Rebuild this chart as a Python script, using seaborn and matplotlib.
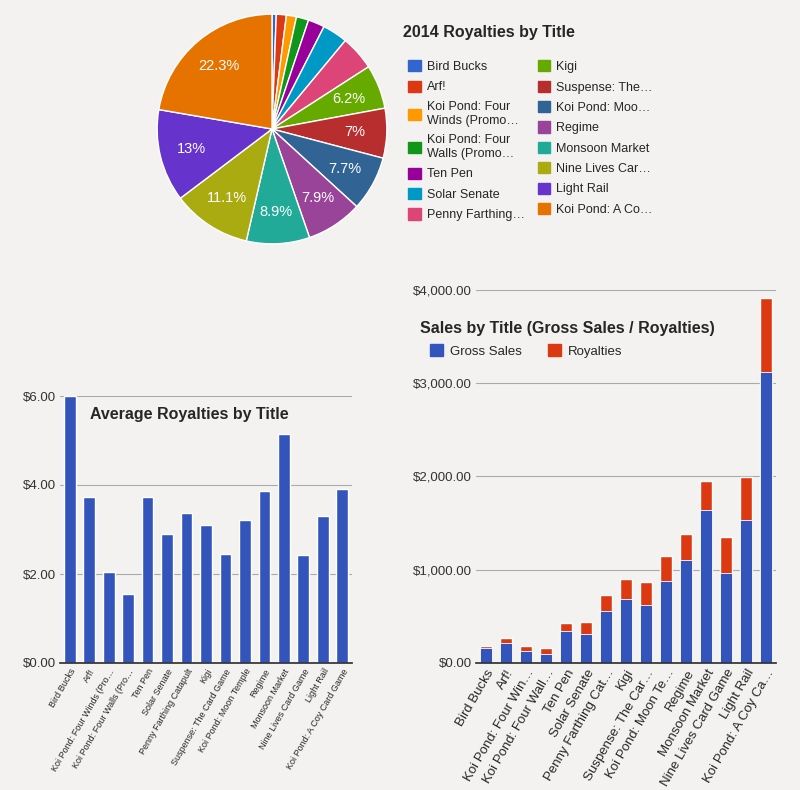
import matplotlib
matplotlib.use("Agg")
import matplotlib.pyplot as plt
import matplotlib.patches as mpatches
import seaborn as sns
import pandas as pd

titles = ["Bird Bucks", "Arf!", "Koi Pond: Four Winds (Promo)", "Koi Pond: Four Walls (Promo)",
          "Ten Pen", "Solar Senate", "Penny Farthing Catapult", "Kigi", "Suspense: The Card Game",
          "Koi Pond: Moon Temple", "Regime", "Monsoon Market", "Nine Lives Card Game",
          "Light Rail", "Koi Pond: A Coy Card Game"]
legend_labels = ["Bird Bucks", "Arf!", "Koi Pond: Four\nWinds (Promo…", "Koi Pond: Four\nWalls (Promo…",
                 "Ten Pen", "Solar Senate", "Penny Farthing…", "Kigi", "Suspense: The…",
                 "Koi Pond: Moo…", "Regime", "Monsoon Market", "Nine Lives Car…",
                 "Light Rail", "Koi Pond: A Co…"]
avg_labels = ["Bird Bucks", "Arf!", "Koi Pond: Four Winds (Pro…", "Koi Pond: Four Walls (Pro…",
              "Ten Pen", "Solar Senate", "Penny Farthing Catapult", "Kigi", "Suspense: The Card Game",
              "Koi Pond: Moon Temple", "Regime", "Monsoon Market", "Nine Lives Card Game",
              "Light Rail", "Koi Pond: A Coy Card Game"]
sales_labels = ["Bird Bucks", "Arf!", "Koi Pond: Four Win…", "Koi Pond: Four Wall…",
                "Ten Pen", "Solar Senate", "Penny Farthing Cat…", "Kigi", "Suspense: The Car…",
                "Koi Pond: Moon Te…", "Regime", "Monsoon Market", "Nine Lives Card Game",
                "Light Rail", "Koi Pond: A Coy Ca…"]
royalties = [21, 50, 50, 61, 82, 125, 172, 219, 247, 272, 279, 314, 392, 459, 787]
gross = [161, 214, 129, 96, 343, 311, 557, 686, 621, 879, 1100, 1643, 964, 1536, 3125]
avg_royalty = [6.00, 3.74, 2.04, 1.54, 3.74, 2.90, 3.38, 3.10, 2.46, 3.21, 3.87, 5.14, 2.42, 3.30, 3.91]

pie_colors = ["#3366cc", "#dc3912", "#ff9900", "#109618", "#990099", "#0099c6", "#dd4477",
              "#66aa00", "#b82e2e", "#316395", "#994499", "#22aa99", "#aaaa11", "#6633cc", "#e67300"]
BLUE = "#3355bb"
RED = "#dc3912"
BG = "#f3f2f1"

sns.set_theme(style="white")
plt.rcParams['font.family'] = ['Liberation Sans', 'DejaVu Sans']

W, H = 800, 790
fig = plt.figure(figsize=(8, 7.9), dpi=100, facecolor=BG)

def ax_px(x0, y0, x1, y1):
    return fig.add_axes([x0 / W, 1 - y1 / H, (x1 - x0) / W, (y1 - y0) / H])

# ---- Pie ----
axp = ax_px(156, 13, 388, 245)
def fmt(p):
    if p < 5.5:
        return ""
    s = f"{p:.1f}"
    return (s[:-2] if s.endswith(".0") else s) + "%"
wedges, texts, autotexts = axp.pie(royalties, colors=pie_colors, startangle=90, counterclock=False,
                                   autopct=fmt, pctdistance=0.72,
                                   wedgeprops=dict(edgecolor="white", linewidth=1))
for t in autotexts:
    t.set_color("white")
    t.set_fontsize(10.5)
axp.set_xlim(-1.01, 1.01)
axp.set_ylim(-1.01, 1.01)
axp.set_aspect("equal")
fig.text(403 / W, 1 - 33 / H, "2014 Royalties by Title", fontsize=11.5, fontweight="bold",
         va="center", ha="left")
handles = [mpatches.Patch(color=c, label=l) for c, l in zip(pie_colors, legend_labels)]
blank = mpatches.Patch(color="none", label=" ")
handles = handles[:7] + [blank] + handles[7:]
fig.legend(handles=handles, loc="upper left", bbox_to_anchor=(397 / W, 1 - 49 / H), ncol=2,
           frameon=False, fontsize=9, handlelength=1.0, handleheight=1.0, handletextpad=0.5,
           columnspacing=1.0, labelspacing=0.6)

# ---- Average royalties ----
axa = ax_px(60, 396, 352, 663)
axa.set_facecolor(BG)
df_a = pd.DataFrame({"title": titles, "avg": avg_royalty})
sns.barplot(data=df_a, x="title", y="avg", color=BLUE, saturation=1, width=0.6, ax=axa)
axa.set_ylim(0, 6)
axa.set_yticks([0, 2, 4, 6])
axa.set_yticklabels(["$0.00", "$2.00", "$4.00", "$6.00"], fontsize=9.5, color="#333333")
axa.set_xticks(range(len(titles)))
axa.set_xticklabels(avg_labels, rotation=60, ha="right", rotation_mode="anchor", fontsize=6.5)
axa.set_xlabel("")
axa.set_ylabel("")
axa.grid(axis="y", color="#aaaaaa", linewidth=0.8)
axa.set_axisbelow(True)
for s in ["top", "right", "left"]:
    axa.spines[s].set_visible(False)
axa.spines["bottom"].set_color("#333333")
axa.tick_params(axis="both", length=0, pad=3)
axa.set_xlim(-0.5, len(titles) - 0.5)
fig.text(90 / W, 1 - 415 / H, "Average Royalties by Title", fontsize=11.5, fontweight="bold",
         va="center", ha="left")

# ---- Sales stacked ----
axs = ax_px(476, 290, 776, 663)
axs.set_facecolor(BG)
df_s = pd.DataFrame({"title": titles, "gross": gross, "royalties": royalties})
df_s["total"] = df_s["gross"] + df_s["royalties"]
sns.barplot(data=df_s, x="title", y="total", color=RED, saturation=1, width=0.6, ax=axs)
sns.barplot(data=df_s, x="title", y="gross", color=BLUE, saturation=1, width=0.6, ax=axs)
for p in axs.patches[len(titles):]:
    p.set_edgecolor("white")
    p.set_linewidth(0.6)
axs.set_ylim(0, 4000)
axs.set_yticks([0, 1000, 2000, 3000, 4000])
axs.set_yticklabels(["$0.00", "$1,000.00", "$2,000.00", "$3,000.00", "$4,000.00"],
                    fontsize=9.5, color="#333333")
axs.set_xticks(range(len(titles)))
axs.set_xticklabels(sales_labels, rotation=60, ha="right", rotation_mode="anchor", fontsize=9.5)
axs.set_xlabel("")
axs.set_ylabel("")
axs.grid(axis="y", color="#aaaaaa", linewidth=0.8)
axs.set_axisbelow(True)
for s in ["top", "right", "left"]:
    axs.spines[s].set_visible(False)
axs.spines["bottom"].set_color("#333333")
axs.tick_params(axis="both", length=0, pad=3)
axs.set_xlim(-0.5, len(titles) - 0.5)
fig.text(420 / W, 1 - 328 / H, "Sales by Title (Gross Sales / Royalties)", fontsize=11.5,
         fontweight="bold", va="center", ha="left")
fig.legend(handles=[mpatches.Patch(color=BLUE, label="Gross Sales"),
                    mpatches.Patch(color=RED, label="Royalties")],
           loc="center left", bbox_to_anchor=(418 / W, 1 - 351 / H), ncol=2, frameon=False,
           fontsize=9.5, handlelength=1.0, handleheight=1.0, handletextpad=0.5, columnspacing=2.0)

fig.savefig("out.png", dpi=100, facecolor=BG)
